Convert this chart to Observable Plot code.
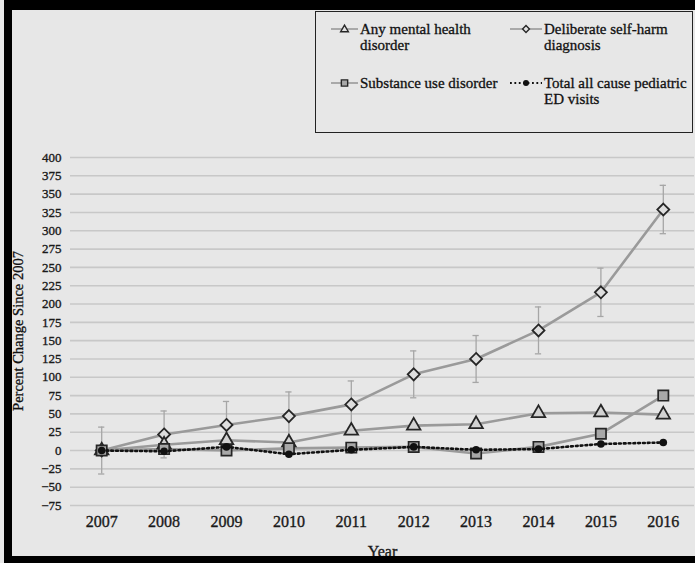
<!DOCTYPE html>
<html><head><meta charset="utf-8">
<script src="https://cdn.jsdelivr.net/npm/d3@7"></script>
<script src="https://cdn.jsdelivr.net/npm/@observablehq/plot@0.6"></script>
<style>
body{margin:0;background:#e7e7e7;}
#wrap{position:relative;width:695px;height:563px;overflow:hidden;background:#e7e7e7;font-family:"Liberation Serif","Times New Roman",serif;}
#chart{position:absolute;left:0;top:0;}
#chart svg text{stroke:#1a1a1a;stroke-width:0.35px;}
#ylabel{position:absolute;left:18px;top:331px;transform:translate(-50%,-50%) rotate(-90deg);font-size:14.5px;color:#111;white-space:nowrap;-webkit-text-stroke:0.3px #111}
#frame{position:absolute;left:4px;top:0;width:720px;height:563px;box-sizing:border-box;border-left:8px solid #000;border-top:10px solid #000;border-bottom:7px solid #000;pointer-events:none}
#legend{position:absolute;left:315px;top:11px;width:378px;height:122px;box-sizing:border-box;border:1.6px solid #222;}
.sym{position:absolute;}
.txt{position:absolute;font-size:15px;line-height:16px;color:#111;white-space:nowrap;-webkit-text-stroke:0.3px #111}
</style>
</head><body>
<div id="wrap">
<div id="chart"></div>
<div id="ylabel">Percent Change Since 2007</div>
<div id="frame"></div>
<div id="legend"></div>
</div>
<script>
const years = [2007, 2008, 2009, 2010, 2011, 2012, 2013, 2014, 2015, 2016];
const selfHarm = [0, 22, 35, 47, 63, 104, 125, 164, 216, 329];
const selfHarmErr = [32, 32, 32, 33, 32, 32, 32, 32, 33, 33];
const mentalHealth = [0, 8, 14, 11, 27, 34, 36, 51, 52, 49];
const substanceUse = [0, 2, 0, 3, 4, 5, -4, 5, 23, 75];
const totalVisits = [0, -1, 5, -5, 1, 5, 1, 2, 9, 11];
const yTicks = [-75, -50, -25, 0, 25, 50, 75, 100, 125, 150, 175, 200, 225, 250, 275, 300, 325, 350, 375, 400];
const seriesNames = ["Any mental health disorder", "Deliberate self-harm diagnosis", "Substance use disorder", "Total all cause pediatric ED visits"];

const data = years.map((year, i) => ({
  year,
  selfHarm: selfHarm[i],
  err: selfHarmErr[i],
  mental: mentalHealth[i],
  substance: substanceUse[i],
  total: totalVisits[i]
}));

const lineGray = "#9a9a9a";
const edge = "#262626";

const plot = Plot.plot({
  width: 695,
  height: 563,
  marginLeft: 70,
  marginRight: 1,
  marginTop: 157,
  marginBottom: 58,
  style: {background: "transparent", fontFamily: "'Liberation Serif', 'Times New Roman', serif", color: "#1a1a1a"},
  x: {domain: [2006.5, 2016.5]},
  y: {domain: [-75, 400]},
  marks: [
    Plot.gridY(yTicks, {stroke: "#c8c8c8", strokeOpacity: 1, strokeWidth: 1.6}),
    Plot.axisY(yTicks, {tickSize: 0, tickPadding: 9, fontSize: 13, label: null}),
    Plot.axisX(years, {tickSize: 0, tickPadding: 10, fontSize: 16, tickFormat: "d", label: "Year", labelAnchor: "center", labelArrow: "none", labelOffset: 51}),
    Plot.ruleX(data, {x: "year", y1: d => d.selfHarm - d.err, y2: d => d.selfHarm + d.err, stroke: "#a6a6a6", strokeWidth: 1.3}),
    Plot.ruleY(data, {y: d => d.selfHarm + d.err, x1: d => d.year - 0.05, x2: d => d.year + 0.05, stroke: "#a6a6a6", strokeWidth: 1.3}),
    Plot.ruleY(data, {y: d => d.selfHarm - d.err, x1: d => d.year - 0.05, x2: d => d.year + 0.05, stroke: "#a6a6a6", strokeWidth: 1.3}),
    Plot.line(data, {x: "year", y: "selfHarm", stroke: lineGray, strokeWidth: 2.6}),
    Plot.line(data, {x: "year", y: "mental", stroke: lineGray, strokeWidth: 2.6}),
    Plot.line(data, {x: "year", y: "substance", stroke: lineGray, strokeWidth: 2.6}),
    Plot.dot(data, {x: "year", y: "selfHarm", symbol: "diamond2", r: 5.4, fill: "#dedede", stroke: edge, strokeWidth: 1.8}),
    Plot.dot(data, {x: "year", y: "mental", symbol: "triangle", r: 5, fill: "#d2d2d2", stroke: edge, strokeWidth: 1.8}),
    Plot.dot(data, {x: "year", y: "substance", symbol: "square", r: 5.8, fill: "#a8a8a8", stroke: edge, strokeWidth: 1.7}),
    Plot.line(data, {x: "year", y: "total", stroke: "#111", strokeWidth: 2.6, strokeDasharray: "1.8 3"}),
    Plot.dot(data, {x: "year", y: "total", r: 3.8, fill: "#111", stroke: "none"})
  ]
});
document.getElementById("chart").appendChild(plot);

// Legend
const legend = d3.select("#legend");
const items = [
  {name: seriesNames[0], lines: ["Any mental health", "disorder"], sx: 15, tx: 44, ty: 9, kind: "triangle"},
  {name: seriesNames[1], lines: ["Deliberate self-harm", "diagnosis"], sx: 194, tx: 228, ty: 9, kind: "diamond"},
  {name: seriesNames[2], lines: ["Substance use disorder"], sx: 15, tx: 44, ty: 63, kind: "square"},
  {name: seriesNames[3], lines: ["Total all cause pediatric", "ED visits"], sx: 194, tx: 228, ty: 63, kind: "circle"}
];
items.forEach(it => {
  const w = it.tx - it.sx - 2;
  const svg = legend.append("svg").attr("class", "sym")
    .attr("width", w).attr("height", 16)
    .style("left", it.sx + "px").style("top", it.ty + "px");
  if (it.kind === "circle") {
    svg.append("line").attr("x1", 0).attr("x2", w).attr("y1", 8).attr("y2", 8)
      .attr("stroke", "#111").attr("stroke-width", 2).attr("stroke-dasharray", "1.8 2.6");
    svg.append("circle").attr("cx", w / 2).attr("cy", 8).attr("r", 3).attr("fill", "#111");
  } else {
    svg.append("line").attr("x1", 0).attr("x2", w).attr("y1", 8).attr("y2", 8)
      .attr("stroke", lineGray).attr("stroke-width", 1.6);
    const sym = it.kind === "triangle" ? d3.symbolTriangle : it.kind === "diamond" ? d3.symbolDiamond2 : d3.symbolSquare;
    const size = it.kind === "triangle" ? 26 : it.kind === "diamond" ? 30 : 40;
    svg.append("path").attr("d", d3.symbol(sym, size)())
      .attr("transform", `translate(${w / 2},${it.kind === "triangle" ? 8.5 : 8})`)
      .attr("fill", it.kind === "square" ? "#a8a8a8" : "#e2e2e2")
      .attr("stroke", edge).attr("stroke-width", 1.4);
  }
  legend.append("div").attr("class", "txt")
    .style("left", it.tx + "px").style("top", it.ty + "px")
    .html(it.lines.join("<br>"));
});
</script>
</body></html>
